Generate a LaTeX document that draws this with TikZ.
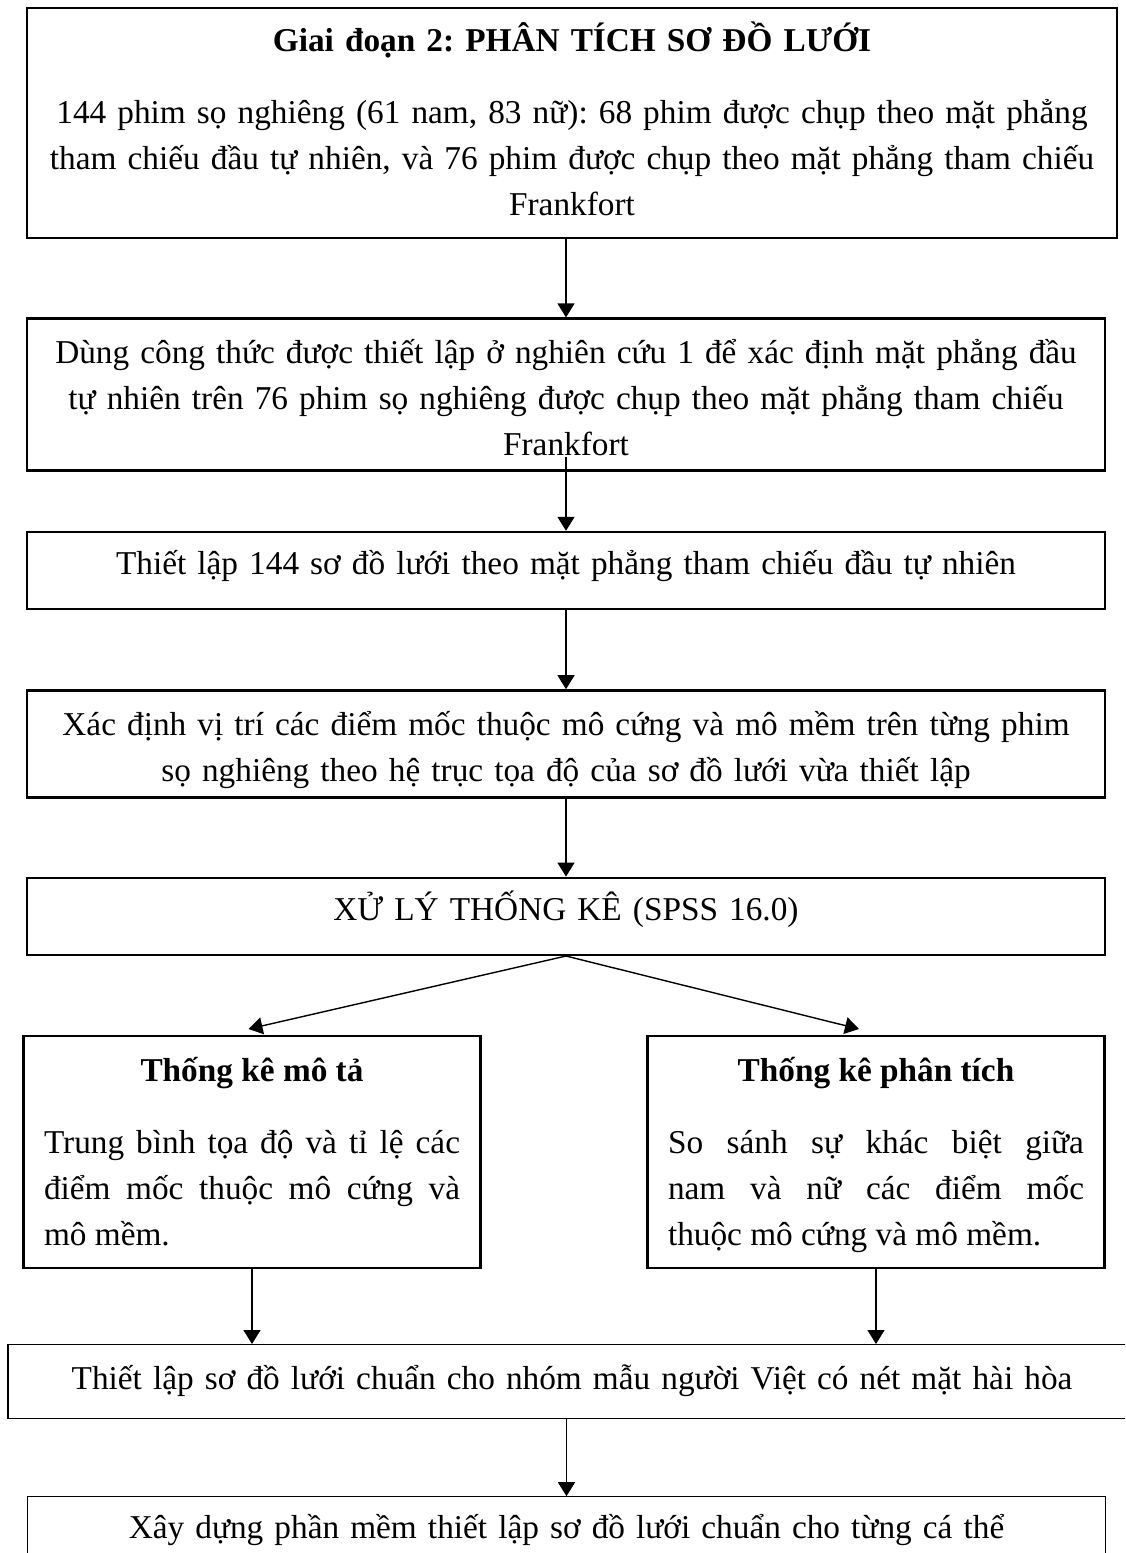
\documentclass[tikz,border=0pt]{standalone}
\usepackage{fontspec}
\setmainfont{Liberation Serif}
\usetikzlibrary{arrows.meta,positioning}
\frenchspacing
\tolerance=9999
\hyphenpenalty=10000
\tikzset{
  khung/.style={rectangle, draw, line width=1.2pt, minimum width=539pt,
                align=center, text width=530pt, inner sep=0pt, text height=22pt},
  khungnho/.style={khung, minimum width=228.5pt, text depth=93.5pt,
                   text width=208pt, align=justify},
  khungmong/.style={khung, line width=0.6pt},
  muiten/.style={-{Triangle[length=7pt,width=8.5pt]}, line width=0.7pt},
}

\begin{document}
\begin{tikzpicture}[font=\fontsize{16.65pt}{23pt}\selectfont]
  \useasboundingbox (0,0) rectangle (562.5pt,-776.5pt);
  \clip (0,0) rectangle (562.5pt,-776.5pt);
  \node[khung, minimum width=545pt, text height=21.5pt, text depth=93.5pt] (b1) at (286pt,-3.5pt)
       [anchor=north]
       {\textbf{Giai đoạn 2: PHÂN TÍCH SƠ ĐỒ LƯỚI}\\[13pt]
        144 phim sọ nghiêng (61 nam, 83 nữ): 68 phim được chụp theo mặt phẳng\\
        tham chiếu đầu tự nhiên, và 76 phim được chụp theo mặt phẳng tham chiếu\\
        Frankfort};
  \node[khung, text height=22.5pt, text depth=53.5pt, below=39pt of b1, xshift=-3pt] (b2)
       {Dùng công thức được thiết lập ở nghiên cứu 1 để xác định mặt phẳng đầu\\
        tự nhiên trên 76 phim sọ nghiêng được chụp theo mặt phẳng tham chiếu\\
        Frankfort};
  \node[khung, text height=21pt, text depth=17.5pt, below=29.5pt of b2] (b3)
       {Thiết lập 144 sơ đồ lưới theo mặt phẳng tham chiếu đầu tự nhiên};
  \node[khung, text height=22.5pt, text depth=31pt, below=39.5pt of b3] (b4)
       {Xác định vị trí các điểm mốc thuộc mô cứng và mô mềm trên từng phim\\
        sọ nghiêng theo hệ trục tọa độ của sơ đồ lưới vừa thiết lập};
  \node[khung, text height=21.5pt, text depth=17pt, below=39pt of b4] (b5)
       {XỬ LÝ THỐNG KÊ (SPSS 16.0)};
  \node[khungnho, text height=22.5pt, below=39.5pt of b5, xshift=-157pt] (ld)
       {{\centering\textbf{Thống kê mô tả}\par}\vspace{13pt}
        Trung bình tọa độ và tỉ lệ các\linebreak
        điểm mốc thuộc mô cứng và\linebreak
        mô mềm.};
  \node[khungnho, text height=22.5pt, below=39.5pt of b5, xshift=155pt] (rd)
       {{\centering\textbf{Thống kê phân tích}\par}\vspace{13pt}
        So sánh sự khác biệt giữa\linebreak
        nam và nữ các điểm mốc\linebreak
        thuộc mô cứng và mô mềm.};
  \node[khungmong, minimum width=564pt, text height=22.5pt, text depth=14.5pt,
        below=194pt of b5, xshift=3pt] (b6)
       {Thiết lập sơ đồ lưới chuẩn cho nhóm mẫu người Việt có nét mặt hài hòa};
  \node[khungmong, text height=21pt, text depth=17.5pt, below=38.5pt of b6, xshift=-2.75pt] (b7)
       {Xây dựng phần mềm thiết lập sơ đồ lưới chuẩn cho từng cá thể};
  \draw[muiten] (b1.south -| b2.north) -- (b2.north);
  \draw[muiten] ([yshift=7.5pt]b2.south) -- (b3.north);
  \draw[muiten] (b3) -- (b4);
  \draw[muiten] (b4) -- (b5);
  \draw[muiten] (b5.south) -- ([xshift=-1.75pt,yshift=3pt]ld.north);
  \draw[muiten] (b5.south) -- ([xshift=-8.5pt,yshift=3pt]rd.north);
  \draw[muiten] (ld.south) -- (ld.south |- b6.north);
  \draw[muiten] (rd.south) -- (rd.south |- b6.north);
  \draw[muiten] (b6.south -| b7.north) -- (b7.north);
\end{tikzpicture}
\end{document}
